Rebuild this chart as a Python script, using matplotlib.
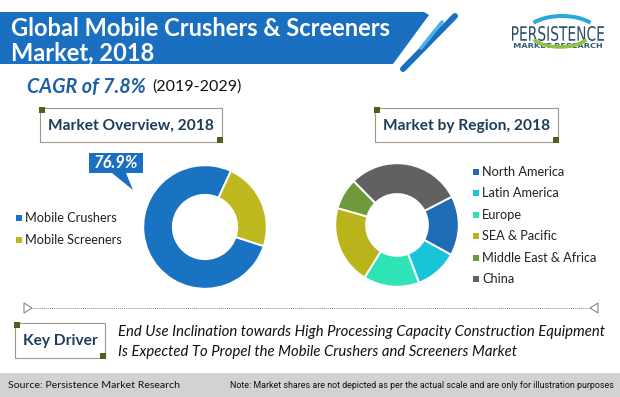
import matplotlib
matplotlib.use('Agg')
import matplotlib.pyplot as plt
from matplotlib.patches import Rectangle, Polygon, PathPatch, Arc
from matplotlib.textpath import TextPath
from matplotlib.font_manager import FontProperties
from matplotlib.transforms import Affine2D

# ---------------- data ----------------
overview_labels = ['Mobile Crushers', 'Mobile Screeners']
overview_values = [76.9, 23.1]
overview_colors = ['#1a72c2', '#bdb91e']
overview_callout = '76.9%'

region_labels = ['North America', 'Latin America', 'Europe', 'SEA & Pacific',
                 'Middle East & Africa', 'China']
region_values = [15.6, 11.2, 14.6, 20.6, 8.2, 29.8]
region_colors = ['#1f6cb5', '#19c3d8', '#2ee3b5', '#bab41c', '#6e9a3c', '#616161']

title_lines = ['Global Mobile Crushers & Screeners', 'Market, 2018']
cagr_text = 'CAGR of 7.8%'
cagr_period = '(2019-2029)'
driver_lines = ['End Use Inclination towards High Processing Capacity Construction Equipment',
                'Is Expected To Propel the Mobile Crushers and Screeners Market']

FONT = ['Lato', 'DejaVu Sans']
plt.rcParams['font.family'] = FONT

W, H = 620, 397
fig = plt.figure(figsize=(6.2, 3.97), dpi=100)
bg = fig.add_axes([0, 0, 1, 1])
bg.set_xlim(0, W)
bg.set_ylim(H, 0)
bg.axis('off')


def pt(v):
    return v * 0.72


NAVY = '#1d3c5c'
OLIVE = '#535d1c'
BLUE = '#1b6fc1'

# ---------------- banner ----------------
bg.add_patch(Polygon([(0, 12), (424, 12), (429, 15), (393, 64), (0, 64)],
                     closed=True, facecolor=BLUE, edgecolor='none'))
bg.plot([455, 403], [16, 69], color=BLUE, lw=pt(6), solid_capstyle='round')
bg.plot([442, 421], [22, 48], color='#4db3e6', lw=pt(3.5), solid_capstyle='round')
bg.text(11, 28, title_lines[0], color='white', fontsize=pt(23.6), fontweight='bold',
        va='center', ha='left')
bg.text(11, 53, title_lines[1], color='white', fontsize=pt(23.6), fontweight='bold',
        va='center', ha='left')

# ---------------- logo ----------------
def squeezed_text(s, x, y, height_px, width_px, color, weight='normal'):
    fp = FontProperties(family='DejaVu Sans', weight=weight)
    tp = TextPath((0, 0), s, size=1, prop=fp)
    ext = tp.get_extents()
    tr = Affine2D().translate(-ext.x0, -ext.y0).scale(width_px / ext.width, -height_px / ext.height).translate(x, y)
    bg.add_patch(PathPatch(tr.transform_path(tp), facecolor=color, edgecolor='none'))

squeezed_text('PERSISTENCE', 512, 41, 15, 92, '#2b4a68')
squeezed_text('MARKET RESEARCH', 514, 48, 5, 88, '#3a5570', weight='bold')
bg.add_patch(Arc((562, 36), 76, 40, theta1=205, theta2=335, color='#2aa8d8', lw=pt(4)))
bg.add_patch(Arc((560, 30), 64, 34, theta1=20, theta2=160, color='#8cc43c', lw=pt(3.5)))

# ---------------- CAGR ----------------
bg.text(27, 87, cagr_text, color='#1f5fa6', fontsize=pt(19.8), fontweight='bold',
        fontstyle='italic', va='center', ha='left')
bg.text(152, 87, cagr_period, color='#111111', fontsize=pt(16), va='center', ha='left')


# ---------------- section boxes ----------------
def section_box(x0, y0, x1, y1, text, fs):
    bg.add_patch(Rectangle((x0, y0), x1 - x0, y1 - y0, facecolor='white',
                           edgecolor='#9a9a86', lw=0.8))
    s = 6
    bg.add_patch(Rectangle((x0 - 1, y0 - 1), s, s, facecolor=OLIVE, edgecolor='none'))
    bg.add_patch(Rectangle((x1 - s + 1, y1 - s + 1), s, s, facecolor=OLIVE, edgecolor='none'))
    bg.text((x0 + x1) / 2, (y0 + y1) / 2 + 1, text, color=NAVY, fontsize=pt(fs),
            fontweight='bold', ha='center', va='center')

section_box(40, 108, 222, 142, 'Market Overview, 2018', 15.5)
section_box(375, 108, 558, 142, 'Market by Region, 2018', 15.5)
section_box(15, 323, 105, 358, 'Key Driver', 15.5)

# ---------------- donuts ----------------
def donut(cx, cy, r, values, colors, start, width):
    ax = fig.add_axes([(cx - r) / W, (H - cy - r) / H, 2 * r / W, 2 * r / H])
    ax.pie(values, colors=colors, startangle=start, counterclock=False, radius=1,
           wedgeprops=dict(width=width, edgecolor='white', linewidth=1.4))
    ax.set_xlim(-1.02, 1.02)
    ax.set_ylim(-1.02, 1.02)
    ax.set_aspect('equal')
    ax.axis('off')
    return ax

donut(205, 227, 63, overview_values, overview_colors, -18, 0.48)
donut(397, 225, 63, region_values, region_colors, 27.3, 0.5)

# callout
bg.add_patch(Polygon([(89, 153), (143, 153), (143, 173), (126, 173), (133, 190),
                      (112, 173), (89, 173)], closed=True, facecolor=BLUE, edgecolor='none'))
bg.text(116, 163.5, overview_callout, color='white', fontsize=pt(16.5), fontweight='bold',
        fontstyle='italic', ha='center', va='center')

# legends
for i, (lab, col) in enumerate(zip(overview_labels, overview_colors)):
    y = 218 + i * 21.5
    bg.add_patch(Rectangle((16, y - 3), 6, 6, facecolor=col, edgecolor='none'))
    bg.text(25, y, lab, fontsize=pt(12.8), color='#222222', va='center', ha='left')

for i, (lab, col) in enumerate(zip(region_labels, region_colors)):
    y = 172 + i * 21.4
    bg.add_patch(Rectangle((473, y - 3), 6, 6, facecolor=col, edgecolor='none'))
    bg.text(482, y, lab, fontsize=pt(12.8), color='#222222', va='center', ha='left')

# ---------------- divider ----------------
bg.plot([32, 590], [308, 308], color='#8a8a8a', lw=0.7, ls=(0, (1, 1)))
bg.add_patch(Polygon([(24, 303), (24, 313), (32, 308)], closed=True, facecolor='white',
                     edgecolor='#8a8a8a', lw=0.8))
bg.add_patch(Polygon([(598, 303), (598, 313), (590, 308)], closed=True, facecolor='white',
                     edgecolor='#8a8a8a', lw=0.8))

# ---------------- key driver text ----------------
bg.text(118, 332, driver_lines[0], fontsize=pt(14.9), fontstyle='italic', color='#111111',
        va='center', ha='left')
bg.text(118, 352, driver_lines[1], fontsize=pt(14.9), fontstyle='italic', color='#111111',
        va='center', ha='left')

# ---------------- footer ----------------
bg.add_patch(Rectangle((0, 373), W, 24, facecolor='#d2d2d2', edgecolor='none'))
bg.text(8, 385, 'Source: Persistence Market Research', fontsize=pt(10.5), color='#111111',
        va='center', ha='left')
bg.text(614, 385, 'Note: Market shares are not depicted as per the actual scale and are only for illustration purposes',
        fontsize=pt(8.9), color='#111111', va='center', ha='right',
        family=['Liberation Sans Narrow', 'Roboto', 'DejaVu Sans'])

fig.savefig('out.png', dpi=100)
